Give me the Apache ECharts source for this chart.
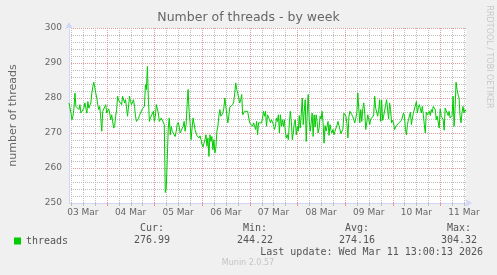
<!DOCTYPE html>
<html><head><meta charset="utf-8">
<script src="https://cdn.jsdelivr.net/npm/echarts@6/dist/echarts.min.js"></script>
<style>html,body{margin:0;padding:0;background:#f0f0f0}#c{width:497px;height:275px}</style>
</head><body><div id="c"></div>
<script>
// hours since 03 Mar 00:00 of the first sample, one sample every half hour
const startHour = 5;
const stepHours = 0.5;
const threads = [
278.6,278.6,275.7,273.8,274.8,277.1,281.4,277.6,278.1,277.1,276.7,278.1,275.7,275.2,276.2,277.1,278.6,277.1,275.7,279.0,
277.1,277.6,278.6,281.4,283.3,284.5,284.3,281.4,280.0,278.1,276.7,277.6,274.3,270.5,276.2,276.2,275.7,278.1,275.7,276.2,
276.9,275.7,273.8,275.2,274.8,271.4,272.1,274.8,276.7,280.5,279.3,279.5,279.5,278.1,280.5,280.0,278.6,279.5,277.1,274.8,
274.8,280.5,279.0,278.1,277.8,279.5,277.6,274.8,273.3,
273.3,274.1,275.0,275.7,275.2,276.9,276.7,277.6,283.8,282.4,289.0,279.5,273.3,274.3,274.3,273.8,276.2,273.3,274.8,278.1,
277.6,275.7,273.3,273.0,274.3,274.0,274.0,272.4,253.0,254.3,262.4,271.4,274.3,269.5,271.9,270.5,270.5,270.5,269.0,270.5,
272.4,273.0,271.9,270.0,270.5,270.0,271.9,273.3,270.5,272.4,278.1,282.4,276.2,272.9,268.1,271.4,274.3,274.8,271.0,270.0,
269.2,268.9,268.6,269.2,268.1,266.7,266.0,265.7,
268.1,269.5,266.2,268.6,263.3,269.5,267.6,269.0,265.2,268.1,264.3,265.7,270.5,271.9,274.8,276.7,274.8,275.2,275.7,277.1,
280.0,277.6,278.1,272.9,274.8,277.4,277.1,277.6,278.1,279.0,281.4,284.3,282.4,281.4,281.9,278.6,279.5,281.0,275.2,275.7,
276.2,275.9,275.9,276.2,276.7,272.9,272.4,273.3,271.9,272.9,271.9,271.0,273.3,269.5,272.9,272.4,272.9,272.9,274.3,276.2,
274.8,276.2,271.9,275.2,275.2,273.8,272.9,273.8,
273.8,272.4,271.0,271.9,274.3,273.3,275.2,270.0,275.2,271.9,273.8,271.9,273.8,270.5,268.6,269.5,268.1,272.9,276.2,273.3,
268.1,270.0,272.9,273.8,269.5,271.9,270.5,275.0,271.4,275.2,280.0,272.4,276.2,279.5,267.6,275.2,281.0,273.8,270.5,272.9,
275.7,269.0,275.2,271.7,275.2,273.3,270.0,271.4,274.8,274.0,276.2,272.9,267.1,272.1,270.5,270.2,273.3,269.3,272.4,270.7,
270.0,271.0,269.5,270.5,271.4,272.2,273.3,273.8,
271.0,269.8,270.0,271.1,275.7,275.5,274.8,272.7,268.6,274.6,276.2,275.9,275.2,274.6,274.8,272.9,272.4,275.7,281.4,276.9,
272.9,276.7,273.3,276.9,278.6,275.7,271.0,272.9,275.2,273.8,272.4,274.0,274.3,274.6,275.2,280.5,277.1,276.9,274.8,276.5,
279.5,273.3,279.5,273.6,274.8,274.6,274.8,279.5,279.5,274.0,278.6,276.7,272.9,273.6,272.9,271.0,271.4,272.1,271.9,272.8,
272.4,273.1,273.6,274.0,275.7,274.8,271.0,269.5,
272.4,273.8,274.3,275.9,272.4,274.3,275.7,275.5,275.2,279.0,275.7,277.4,278.1,278.1,275.7,277.6,275.2,272.4,270.0,275.9,
275.2,275.7,276.2,275.0,276.7,275.9,277.6,277.6,276.7,273.8,274.8,275.0,271.4,276.9,274.8,274.8,273.8,270.8,277.1,277.4,
277.6,275.0,276.2,274.3,273.8,275.0,280.5,271.9,277.1,284.5,282.4,281.0,280.0,275.0,272.9,275.9,277.6,275.7,276.7,276.2
];
const dayLabels = ['03 Mar','04 Mar','05 Mar','06 Mar','07 Mar','08 Mar','09 Mar','10 Mar','11 Mar'];
const seriesName = 'threads';
const titleText = 'Number of threads - by week';
const yName = 'number of threads';
const statLabels = ['Cur:','Min:','Avg:','Max:'];
const statValues = ['276.99','244.22','274.16','304.32'];
const lastUpdate = 'Last update: Wed Mar 11 13:00:13 2026';
const footer = 'Munin 2.0.57';
const watermark = 'RRDTOOL / TOBI OETIKER';

const yMin = 250, yMax = 300;
const xMin = startHour, xMax = startHour + (threads.length - 1) * stepHours;
const data = threads.map((v, i) => [startHour + i * stepHours, v]);
const labelHours = dayLabels.map((_, i) => 12 + 24 * i);
const gridHours = [];
for (let h = 6; h < xMax; h += 6) gridHours.push(h);

const RED = '#e69a9a', GRAY = '#bebebe', AXIS = '#CFD6F8', FONT = '#666666';
const statX = [152, 255, 357, 459];
const graphics = [];
statLabels.forEach((t, i) => {
  graphics.push({ type: 'text', x: statX[i], y: 228, style: { text: t, align: 'center', verticalAlign: 'middle', font: '10px "DejaVu Sans Mono"', fill: '#555' } });
  graphics.push({ type: 'text', x: statX[i], y: 240, style: { text: statValues[i], align: 'center', verticalAlign: 'middle', font: '10px "DejaVu Sans Mono"', fill: '#555' } });
});
graphics.push({ type: 'text', x: 483, y: 252, style: { text: lastUpdate, align: 'right', verticalAlign: 'middle', font: '10px "DejaVu Sans Mono"', fill: '#555' } });
graphics.push({ type: 'text', x: 248, y: 263, style: { text: footer, align: 'center', verticalAlign: 'middle', font: '8px "DejaVu Sans"', fill: '#c4c4c4' } });
graphics.push({ type: 'text', x: 489, y: 57, rotation: -Math.PI / 2, style: { text: watermark, align: 'center', verticalAlign: 'middle', font: '8px "DejaVu Sans"', fill: '#c8c8c8' } });

const chart = echarts.init(document.getElementById('c'), null, { renderer: 'canvas' });
chart.setOption({
  backgroundColor: '#f0f0f0',
  animation: false,
  textStyle: { fontFamily: 'DejaVu Sans' },
  title: { text: titleText, left: 'center', top: 11, padding: 0,
    textStyle: { fontSize: 12.5, fontWeight: 'normal', color: FONT, fontFamily: 'DejaVu Sans' } },
  legend: { data: [seriesName], left: 9, top: 231, icon: 'rect', itemWidth: 7, itemHeight: 7, selectedMode: false,
    textStyle: { fontFamily: 'DejaVu Sans Mono', fontSize: 10, color: '#555' } },
  grid: { left: 66, top: 28, width: 400, height: 175, backgroundColor: '#ffffff', show: true, borderWidth: 0 },
  xAxis: {
    type: 'value', min: xMin, max: xMax,
    axisLine: { show: true, lineStyle: { color: AXIS, width: 1 }, symbol: ['none', 'arrow'], symbolSize: [6, 7], symbolOffset: [0, 6] },
    axisTick: { show: false },
    splitLine: { show: false },
    axisLabel: { customValues: labelHours, formatter: v => dayLabels[Math.round((v - 12) / 24)] || '',
      color: FONT, fontSize: 9, fontFamily: 'DejaVu Sans', margin: 5 }
  },
  yAxis: {
    type: 'value', min: yMin, max: yMax, interval: 2,
    name: yName, nameLocation: 'middle', nameGap: 50,
    nameTextStyle: { fontSize: 11, color: FONT, fontFamily: 'DejaVu Sans' },
    axisLine: { show: true, lineStyle: { color: AXIS, width: 1 }, symbol: ['none', 'arrow'], symbolSize: [6, 7], symbolOffset: [0, 6] },
    axisTick: { show: false },
    axisLabel: { formatter: v => (v % 10 === 0 ? String(v) : ''), color: FONT, fontSize: 9, fontFamily: 'DejaVu Sans', margin: 7 },
    splitLine: { show: true, lineStyle: { color: [RED, GRAY, GRAY, GRAY, GRAY], type: [1, 1], width: 1 } }
  },
  series: [
    { type: 'custom', name: '_vgrid', data: gridHours, z: 1, silent: true, clip: false,
      encode: { x: 0 },
      renderItem: (params, api) => {
        const h = api.value(0);
        const top = api.coord([h, yMax]), bottom = api.coord([h, yMin]);
        const x = Math.round(top[0]) + 0.5;
        const col = h % 24 === 0 ? RED : GRAY;
        return { type: 'group', children: [
          { type: 'line', shape: { x1: x, y1: top[1], x2: x, y2: bottom[1] },
            style: { stroke: col, lineWidth: 1, lineDash: [1, 1] } },
          { type: 'line', shape: { x1: x, y1: bottom[1], x2: x, y2: bottom[1] + 3 },
            style: { stroke: col, lineWidth: 1 } }
        ] };
      } },
    { type: 'line', name: seriesName, data: data, z: 3, showSymbol: false, symbol: 'rect',
      itemStyle: { color: '#00cc00' }, lineStyle: { color: '#00cc00', width: 1 } }
  ],
  graphic: graphics
});
</script></body></html>
